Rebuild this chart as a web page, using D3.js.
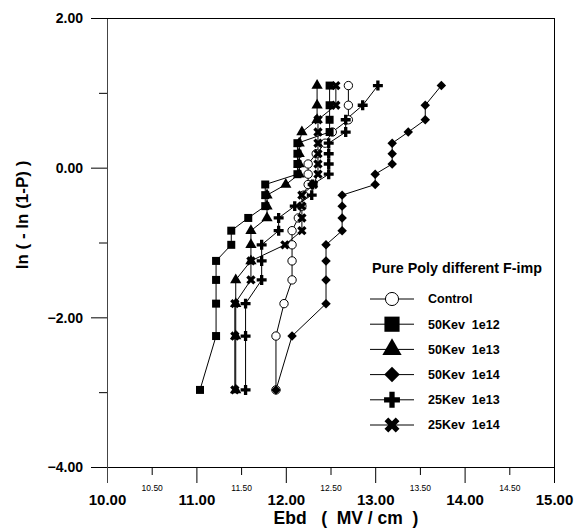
<!DOCTYPE html>
<html>
<head>
<meta charset="utf-8">
<script src="https://cdn.jsdelivr.net/npm/d3@7"></script>
<style>
  body { margin: 0; background: #fff; }
  svg text { font-family: "Liberation Sans", Arial, sans-serif; }
</style>
</head>
<body>
<svg id="chart" width="587" height="528"></svg>
<script>
// Weibull plot levels, ln(-ln(1-P))
var levels = [-2.970, -2.250, -1.817, -1.500, -1.246, -1.031, -0.842, -0.672, -0.514, -0.367,
              -0.225, -0.087, 0.049, 0.186, 0.327, 0.476, 0.640, 0.834, 1.097];

// Ebd (MV/cm) of each sample
var control  = [11.89, 11.89, 11.98, 12.07, 12.07, 12.07, 12.07, 12.14, 12.18, 12.20, 12.25, 12.25, 12.25, 12.34, 12.44, 12.52, 12.70, 12.70, 12.70];
var kev50e12 = [11.04, 11.22, 11.22, 11.22, 11.22, 11.39, 11.39, 11.58, 11.77, 11.77, 11.77, 12.13, 12.13, 12.13, 12.13, 12.49, 12.49, 12.49, 12.49];
var kev50e13 = [11.44, 11.44, 11.44, 11.44, 11.61, 11.61, 11.61, 11.79, 11.79, 11.79, 12.00, 12.15, 12.15, 12.15, 12.15, 12.18, 12.35, 12.35, 12.35];
var kev50e14 = [11.89, 12.07, 12.45, 12.45, 12.45, 12.45, 12.63, 12.63, 12.63, 12.63, 13.00, 13.00, 13.19, 13.19, 13.19, 13.37, 13.56, 13.56, 13.74];
var kev25e13 = [11.55, 11.55, 11.55, 11.73, 11.73, 11.73, 11.92, 11.92, 12.10, 12.29, 12.30, 12.48, 12.48, 12.48, 12.48, 12.67, 12.67, 12.86, 13.03];
var kev25e14 = [11.43, 11.43, 11.43, 11.61, 11.61, 11.99, 12.18, 12.18, 12.18, 12.18, 12.31, 12.36, 12.36, 12.36, 12.36, 12.36, 12.36, 12.56, 12.56];

var seriesNames = ["Control", "50Kev  1e12", "50Kev  1e13", "50Kev  1e14", "25Kev  1e13", "25Kev  1e14"];
var seriesValues = [control, kev50e12, kev50e13, kev50e14, kev25e13, kev25e14];

var xMajor = [10, 11, 12, 13, 14, 15];
var xMinor = [10.5, 11.5, 12.5, 13.5, 14.5];
var yMajor = [2, 0, -2, -4];
var yMinor = [1, -1, -3];

var legendTitle = "Pure Poly different F-imp";
var xTitle = "Ebd   (  MV / cm  )";
var yTitle = "ln ( - ln (1-P) )";

var pLeft = 107, pRight = 554, pTop = 18, pBottom = 467;

var svg = d3.select("#chart");

var x = d3.scaleLinear().domain([10, 15]).range([pLeft, pRight]);
var y = d3.scaleLinear().domain([-4, 2]).range([pBottom, pTop]);

// symbols: circle, square, triangle, diamond, plus, x
var shapes = [
  {type: d3.symbolCircle,   rot: 0,  fill: "#fff", size: 55,  lsize: 135},
  {type: d3.symbolSquare,   rot: 0,  fill: "#000", size: 64,  lsize: 230},
  {type: d3.symbolTriangle, rot: 0,  fill: "#000", size: 55,  lsize: 160},
  {type: d3.symbolSquare,   rot: 45, fill: "#000", size: 45,  lsize: 120},
  {type: d3.symbolCross,    rot: 0,  fill: "#000", size: 55,  lsize: 140},
  {type: d3.symbolCross,    rot: 45, fill: "#000", size: 55,  lsize: 140}
];

// axes
svg.append("g")
    .attr("transform", "translate(0," + pBottom + ")")
    .call(d3.axisBottom(x).tickValues(xMajor).tickSize(16).tickSizeOuter(0).tickFormat(d3.format(".2f")))
    .call(function(g) {
      g.select(".domain").attr("d", "M91,0.5H" + pRight);
      g.selectAll("line").attr("stroke", "#000");
      g.selectAll("text").attr("dy", 0).attr("y", 38)
        .style("font-size", "15px").style("font-weight", "bold").attr("fill", "#000");
    });

svg.append("g")
    .attr("transform", "translate(0," + pBottom + ")")
    .call(d3.axisBottom(x).tickValues(xMinor).tickSize(8).tickSizeOuter(0).tickFormat(d3.format(".2f")))
    .call(function(g) {
      g.select(".domain").remove();
      g.selectAll("line").attr("stroke", "#000");
      g.selectAll("text").attr("dy", 0).attr("y", 24)
        .style("font-size", "8.5px").attr("fill", "#000");
    });

svg.append("g")
    .attr("transform", "translate(" + pLeft + ",0)")
    .call(d3.axisLeft(y).tickValues(yMajor).tickSize(16).tickSizeOuter(0).tickFormat(d3.format(".2f")))
    .call(function(g) {
      g.select(".domain").attr("d", "M0.5," + pTop + "V" + (pBottom + 16)).attr("stroke", "#444");
      g.selectAll("line").attr("stroke", "#000");
      g.selectAll("text").attr("x", -24).attr("dy", "0.35em")
        .style("font-size", "14px").style("font-weight", "bold").attr("fill", "#000");
    });

svg.append("g")
    .attr("transform", "translate(" + pLeft + ",0)")
    .call(d3.axisLeft(y).tickValues(yMinor).tickSize(8).tickSizeOuter(0).tickFormat(""))
    .call(function(g) {
      g.select(".domain").remove();
      g.selectAll("line").attr("stroke", "#000");
    });

// top and right frame
svg.append("line").attr("x1", 91).attr("x2", pRight).attr("y1", pTop + 0.5).attr("y2", pTop + 0.5)
    .attr("stroke", "#000");
svg.append("line").attr("x1", pRight + 0.5).attr("x2", pRight + 0.5).attr("y1", pTop).attr("y2", pBottom + 16)
    .attr("stroke", "#000");

// axis titles
svg.append("text")
    .attr("x", 346).attr("y", 524)
    .attr("text-anchor", "middle")
    .style("font-size", "17.5px").style("font-weight", "bold")
    .style("white-space", "pre")
    .text(xTitle);

svg.append("text")
    .attr("transform", "translate(28,215) rotate(-90)")
    .attr("text-anchor", "middle")
    .style("font-size", "17px").style("font-weight", "bold")
    .style("white-space", "pre")
    .text(yTitle);

// series
var line = d3.line()
    .x(function(d) { return x(d[0]); })
    .y(function(d) { return y(d[1]); });

var plot = svg.append("g");

seriesValues.forEach(function(vals, i) {
  var pts = vals.map(function(v, j) { return [v, levels[j]]; });
  plot.append("path")
      .datum(pts)
      .attr("fill", "none")
      .attr("stroke", "#000")
      .attr("stroke-width", 1)
      .attr("d", line);
});

seriesValues.forEach(function(vals, i) {
  var s = shapes[i];
  var pts = vals.map(function(v, j) { return [v, levels[j]]; });
  plot.selectAll(".m" + i)
      .data(pts)
      .enter().append("path")
      .attr("class", "m" + i)
      .attr("transform", function(d) { return "translate(" + x(d[0]) + "," + y(d[1]) + ") rotate(" + s.rot + ")"; })
      .attr("d", d3.symbol().type(s.type).size(s.size))
      .attr("fill", s.fill)
      .attr("stroke", "#000")
      .attr("stroke-width", i === 0 ? 1 : 0);
});

// legend
var legend = svg.append("g");
legend.append("text")
    .attr("x", 372).attr("y", 273)
    .style("font-size", "14.3px").style("font-weight", "bold")
    .text(legendTitle);

var rows = legend.selectAll(".row")
    .data(seriesNames)
    .enter().append("g")
    .attr("class", "row")
    .attr("transform", function(d, i) { return "translate(0," + (299 + i * 25.2) + ")"; });

rows.append("line")
    .attr("x1", 370).attr("x2", 414)
    .attr("stroke", "#000");

rows.append("path")
    .attr("transform", function(d, i) { return "translate(392,0) rotate(" + shapes[i].rot + ")"; })
    .attr("d", function(d, i) { return d3.symbol().type(shapes[i].type).size(shapes[i].lsize)(); })
    .attr("fill", function(d, i) { return shapes[i].fill; })
    .attr("stroke", "#000")
    .attr("stroke-width", function(d, i) { return i === 0 ? 1 : 0; });

rows.append("text")
    .attr("x", 428).attr("dy", "0.35em")
    .style("font-size", "12.5px").style("font-weight", "bold")
    .style("white-space", "pre")
    .text(function(d) { return d; });
</script>
</body>
</html>
